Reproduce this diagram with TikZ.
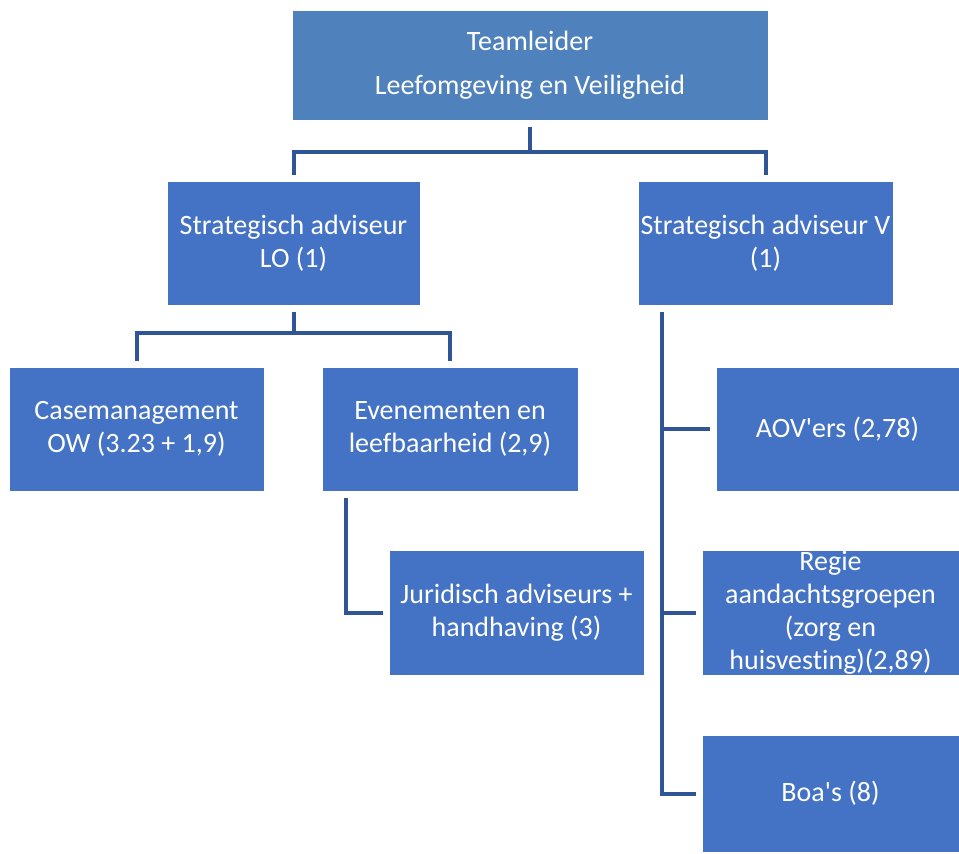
\documentclass[tikz,border=0pt]{standalone}
\usepackage{fontspec}
\setmainfont{Carlito}[Ligatures=NoCommon]
\usepackage{tikz}

\definecolor{boxblue}{HTML}{4472C4}
\definecolor{topblue}{HTML}{4F81BD}
\definecolor{lineblue}{HTML}{2F5597}

\tikzset{
  unit/.style={rectangle, fill=boxblue, draw=white, line width=0.6pt, text=white,
    align=center, inner sep=0pt, font=\fontsize{28}{33}\selectfont},
  conn/.style={draw=lineblue, line width=4pt, shorten <=7pt, shorten >=6pt}
}

\begin{document}
\begin{tikzpicture}[x=1pt,y=-1pt]
\useasboundingbox (0,0) rectangle (959,854);
\node[unit, fill=topblue, minimum width=476pt, minimum height=110pt] (lead) at (530,65) {Teamleider\\[11pt]Leefomgeving en Veiligheid};
\node[unit, minimum width=253pt, minimum height=124pt] (lo) at (293.5,243) {Strategisch adviseur\\LO (1)};
\node[unit, minimum width=255pt, minimum height=124pt] (v) at (765.5,243) {Strategisch adviseur V\\(1)};
\node[unit, minimum width=255pt, minimum height=124pt] (case) at (136.5,429) {Casemanagement\\OW (3.23 + 1,9)};
\node[unit, minimum width=256pt, minimum height=124pt] (even) at (450,429) {Evenementen en\\leefbaarheid (2,9)};
\node[unit, minimum width=255pt, minimum height=125pt] (jur) at (516.5,612.5) {Juridisch adviseurs +\\handhaving (3)};
\node[unit, minimum width=243pt, minimum height=124pt] (aov) at (837.5,429) {AOV\textquotesingle ers (2,78)};
\node[unit, minimum width=257pt, minimum height=125pt] (regie) at (830.5,612.5) {Regie\\aandachtsgroepen\\(zorg en\\huisvesting)(2,89)};
\node[unit, minimum width=257pt, minimum height=117pt] (boa) at (830.5,793.5) {Boa\textquotesingle s (8)};
\draw[conn] (lead.south) -- ++(0,32) -| (lo.north);
\draw[conn] (lead.south) -- ++(0,32) -| (v.north);
\draw[conn] (lo.south) -- ++(0,28) -| (case.north);
\draw[conn] (lo.south) -- ++(0,28) -| (even.north);
\draw[conn] ([xshift=-104pt]even.south) |- (jur.west);
\draw[conn] ([xshift=-103.5pt]v.south) |- (aov.west);
\draw[conn] ([xshift=-103.5pt]v.south) |- (regie.west);
\draw[conn] ([xshift=-103.5pt]v.south) |- (boa.west);
\end{tikzpicture}
\end{document}
